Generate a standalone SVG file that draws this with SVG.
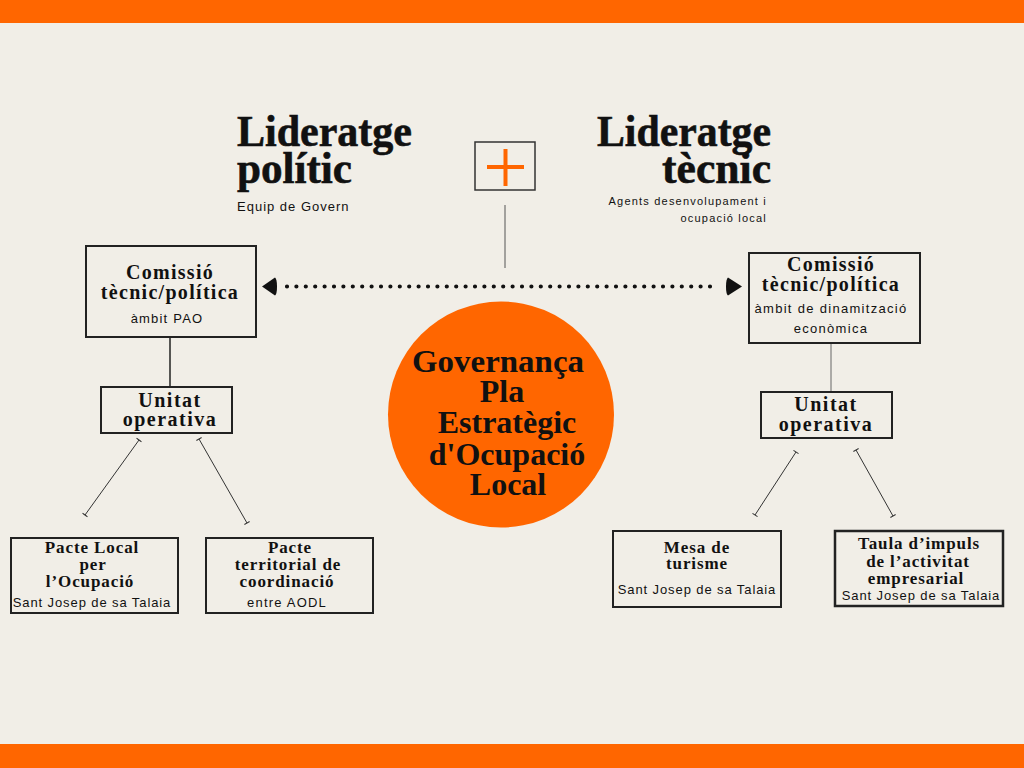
<svg xmlns="http://www.w3.org/2000/svg" width="1024" height="768" viewBox="0 0 1024 768">
<defs>
<style>
.bg{fill:#f1eee7}
.bar{fill:#ff6600}
.box{fill:none;stroke:#222;stroke-width:2}
.title{font-family:"Liberation Serif","DejaVu Serif",serif;font-weight:bold;font-size:44px;fill:#111;stroke:#111;stroke-width:0.6}
.head{font-family:"Liberation Serif","DejaVu Serif",serif;font-weight:bold;fill:#111;text-anchor:middle}
.h20{font-size:20px;letter-spacing:1.3px}
.h17{font-size:17px;letter-spacing:0.9px}
.circ{font-family:"Liberation Serif","DejaVu Serif",serif;font-weight:bold;font-size:32px;fill:#111;text-anchor:middle}
.sub{font-family:"Liberation Sans","Arial",sans-serif;font-size:13px;fill:#111;letter-spacing:1px}
.mid{text-anchor:middle}
.diag{stroke:#333;stroke-width:1;fill:none;marker-start:url(#tick);marker-end:url(#tick)}
</style>
<marker id="tick" viewBox="-1 -4 2 8" markerWidth="2" markerHeight="8" refX="0" refY="0" orient="auto" markerUnits="userSpaceOnUse">
<path d="M0,-3 L0,3" stroke="#333" stroke-width="1"/>
</marker>
</defs>
<rect class="bg" x="0" y="0" width="1024" height="768"/>
<rect class="bar" x="0" y="0" width="1024" height="23"/>
<rect class="bar" x="0" y="744" width="1024" height="24"/>

<g id="lideratge-politic">
<text class="title" x="237" y="146" textLength="175" lengthAdjust="spacingAndGlyphs">Lideratge</text>
<text class="title" x="237" y="183" textLength="115" lengthAdjust="spacingAndGlyphs">polític</text>
<text class="sub" x="237" y="211">Equip de Govern</text>
</g>

<g id="lideratge-tecnic">
<text class="title" x="597" y="146" textLength="174" lengthAdjust="spacingAndGlyphs">Lideratge</text>
<text class="title" x="662" y="183" textLength="109" lengthAdjust="spacingAndGlyphs">tècnic</text>
<text class="sub" x="767" y="205" style="font-size:11px;letter-spacing:1.2px;text-anchor:end">Agents desenvolupament i</text>
<text class="sub" x="767" y="222" style="font-size:11px;letter-spacing:1.2px;text-anchor:end">ocupació local</text>
</g>

<g id="plus">
<rect x="475" y="142" width="60" height="48" fill="none" stroke="#333" stroke-width="1.5"/>
<path d="M487,167 L524,167 M505.5,149 L505.5,186" stroke="#ff6600" stroke-width="4" fill="none"/>
</g>

<g id="connectors">
<line x1="505" y1="205" x2="505" y2="268" stroke="#555" stroke-width="1"/>
<line x1="287" y1="286.5" x2="719" y2="286.5" stroke="#111" stroke-width="4.2" stroke-linecap="round" stroke-dasharray="0 9.4"/>
<path d="M262,286.5 L275,277.5 Q277,279 277,286.5 Q277,294 275,295.5 Z" fill="#111"/>
<path d="M742,286.5 L728,277.5 Q726,279 726,286.5 Q726,294 728,295.5 Z" fill="#111"/>
<line x1="170" y1="337" x2="170" y2="387" stroke="#222" stroke-width="1.5"/>
<line x1="831" y1="343" x2="831" y2="392" stroke="#666" stroke-width="1"/>
<line class="diag" x1="139" y1="440" x2="85" y2="515"/>
<line class="diag" x1="199" y1="439" x2="247" y2="523"/>
<line class="diag" x1="796" y1="452" x2="755" y2="515"/>
<line class="diag" x1="856" y1="450" x2="893" y2="516"/>
</g>

<g id="governanca">
<circle cx="501" cy="414.5" r="113" fill="#ff6600"/>
<text class="circ" x="498" y="372" textLength="172" lengthAdjust="spacingAndGlyphs">Governança</text>
<text class="circ" x="502" y="402">Pla</text>
<text class="circ" x="507" y="433">Estratègic</text>
<text class="circ" x="507" y="465">d'Ocupació</text>
<text class="circ" x="508" y="495">Local</text>
</g>

<g id="comissio-esq">
<rect class="box" x="86" y="246" width="170" height="91"/>
<text class="head h20" x="170" y="279">Comissió</text>
<text class="head h20" x="170" y="299">tècnic/política</text>
<text class="sub mid" x="167" y="323" style="letter-spacing:1.2px">àmbit PAO</text>
</g>

<g id="unitat-esq">
<rect class="box" x="101" y="387" width="131" height="46"/>
<text class="head h20" x="170" y="407" style="letter-spacing:1.5px">Unitat</text>
<text class="head h20" x="170" y="426" style="letter-spacing:1.5px">operativa</text>
</g>

<g id="pacte-local">
<rect class="box" x="11" y="538" width="167" height="75"/>
<text class="head h17" x="92" y="553">Pacte Local</text>
<text class="head h17" x="93" y="570">per</text>
<text class="head h17" x="90" y="587">l’Ocupació</text>
<text class="sub mid" x="92" y="607" style="letter-spacing:0.9px">Sant Josep de sa Talaia</text>
</g>

<g id="pacte-territorial">
<rect class="box" x="206" y="538" width="167" height="75"/>
<text class="head h17" x="290" y="553">Pacte</text>
<text class="head h17" x="288" y="570">territorial de</text>
<text class="head h17" x="287" y="587">coordinació</text>
<text class="sub mid" x="287" y="607" style="letter-spacing:1.2px">entre AODL</text>
</g>

<g id="comissio-dreta">
<rect class="box" x="749" y="253" width="171" height="90"/>
<text class="head h20" x="831" y="271">Comissió</text>
<text class="head h20" x="831" y="291">tècnic/política</text>
<text class="sub mid" x="831" y="313" style="letter-spacing:1.3px">àmbit de dinamització</text>
<text class="sub mid" x="831" y="333" style="letter-spacing:1.3px">econòmica</text>
</g>

<g id="unitat-dreta">
<rect class="box" x="761" y="392" width="131" height="46"/>
<text class="head h20" x="826" y="411" style="letter-spacing:1.5px">Unitat</text>
<text class="head h20" x="826" y="431" style="letter-spacing:1.5px">operativa</text>
</g>

<g id="mesa-turisme">
<rect class="box" x="613" y="531" width="168" height="76"/>
<text class="head h17" x="697" y="553">Mesa de</text>
<text class="head h17" x="697" y="569">turisme</text>
<text class="sub mid" x="697" y="594" style="letter-spacing:0.9px">Sant Josep de sa Talaia</text>
</g>

<g id="taula-impuls">
<rect class="box" x="835" y="531" width="168" height="75" style="stroke-width:2.5"/>
<text class="head h17" x="919" y="549">Taula d’impuls</text>
<text class="head h17" x="918" y="567">de l’activitat</text>
<text class="head h17" x="916" y="584">empresarial</text>
<text class="sub mid" x="921" y="600" style="letter-spacing:0.9px">Sant Josep de sa Talaia</text>
</g>
</svg>
